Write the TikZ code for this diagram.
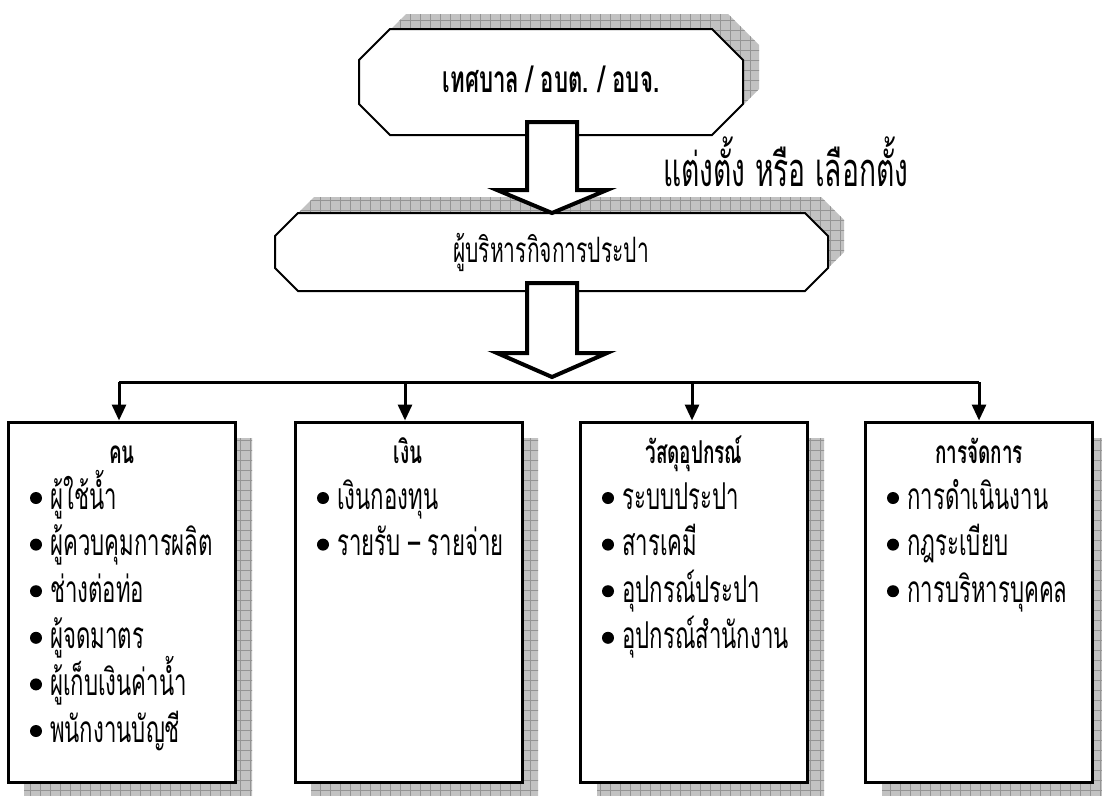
\documentclass[tikz,border=0pt]{standalone}
\usepackage{fontspec}
\setmainfont[Script=Thai,FakeStretch=0.6]{Loma}
\usetikzlibrary{arrows.meta}
\tikzset{
  shadowfill/.style={fill=black!24},
  gridline/.style={draw=black!42, line width=0.7pt},
  octo/.style={draw=black, line width=2pt, fill=white, line join=miter},
  blockarrow/.style={draw=black, line width=4pt, fill=white, line join=miter, miter limit=10},
  panel/.style={draw=black, line width=3pt, fill=white, rectangle, inner sep=0, minimum width=227pt, minimum height=360pt},
  conn/.style={line width=3pt, -{Triangle[width=14pt,length=16pt]}},
  bul/.style={circle, fill=black, inner sep=0, minimum size=12pt},
  itemtext/.style={anchor=base west, font=\fontsize{37}{40}\selectfont, inner sep=0},
  headtext/.style={anchor=base, font=\bfseries\fontsize{31.5}{34}\selectfont, inner sep=0},
}
\newcommand\shadowshape[1]{%
  \begin{scope}
    \clip #1;
    \fill[shadowfill] (0,0) rectangle (1102,796);
    \draw[gridline, step=10pt] (0,0) grid (1102,796);
  \end{scope}}
\begin{document}
\begin{tikzpicture}[x=1pt,y=-1pt]
\useasboundingbox (0,0) rectangle (1102,796);
% shadows
\shadowshape{(406,14) -- (728,14) -- (759,45) -- (759,89) -- (728,120) -- (406,120) -- (375,89) -- (375,45) -- cycle}
\shadowshape{(314,197) -- (821,197) -- (844,220) -- (844,252) -- (821,275) -- (314,275) -- (291,252) -- (291,220) -- cycle}
\shadowshape{(24,438) rectangle (252,796)}
\shadowshape{(311,438) rectangle (538,796)}
\shadowshape{(597,438) rectangle (824,796)}
\shadowshape{(882,438) rectangle (1109,796)}
% top octagon
\draw[octo] (390,29) -- (712,29) -- (743,60) -- (743,104) -- (712,135) -- (390,135) -- (359,104) -- (359,60) -- cycle;
\node[anchor=base, inner sep=0, font=\bfseries\fontsize{37}{40}\selectfont] (top) at (551,92) {เทศบาล / อบต. / อบจ.};
% second octagon
\draw[octo] (298,213) -- (805,213) -- (828,236) -- (828,268) -- (805,291) -- (298,291) -- (275,268) -- (275,236) -- cycle;
\node[anchor=base, inner sep=0, font=\fontsize{35}{38}\selectfont] (mgr) at (551,262) {ผู้บริหารกิจการประปา};
% block arrows
\draw[blockarrow] (527,122) -- (577,122) -- (577,190) -- (607,190) -- (552,213) -- (497,190) -- (527,190) -- cycle;
\draw[blockarrow] (527,283) -- (577,283) -- (577,353) -- (607,353) -- (552,377) -- (497,353) -- (527,353) -- cycle;
\node[anchor=base west, font=\fontsize{47}{50}\selectfont, inner sep=0] (lbl) at (663,186) {แต่งตั้ง หรือ เลือกตั้ง};
% panels
\node[panel] (b1) at (122,602) {};
\node[panel] (b2) at (408.5,602) {};
\node[panel] (b3) at (694,602) {};
\node[panel] (b4) at (979,602) {};
% bus
\coordinate (bus1) at (119,382);
\coordinate (bus2) at (405,382);
\coordinate (bus3) at (692,382);
\coordinate (bus4) at (979,382);
\draw[line width=3pt] (bus1) -- (bus4);
\draw[conn] (bus1) -- (bus1 |- b1.north);
\draw[conn] (bus2) -- (bus2 |- b2.north);
\draw[conn] (bus3) -- (bus3 |- b3.north);
\draw[conn] (bus4) -- (bus4 |- b4.north);
% headings
\node[headtext] (h1) at (122,463) {คน};
\node[headtext] (h2) at (408,463) {เงิน};
\node[headtext] (h3) at (694,463) {วัสดุอุปกรณ์};
\node[headtext] (h4) at (979,463) {การจัดการ};
% items
\foreach \t [count=\i from 0] in {ผู้ใช้น้ำ, ผู้ควบคุมการผลิต, ช่างต่อท่อ, ผู้จดมาตร, ผู้เก็บเงินค่าน้ำ, พนักงานบัญชี}{
  \node[bul] (p1d\i) at (36,498+46.6*\i) {};
  \node[itemtext] (p1t\i) at (50,509+46.6*\i) {\t};
}
\foreach \t [count=\i from 0] in {เงินกองทุน, รายรับ – รายจ่าย}{
  \node[bul] (p2d\i) at (323,498+46.6*\i) {};
  \node[itemtext] (p2t\i) at (337,509+46.6*\i) {\t};
}
\foreach \t [count=\i from 0] in {ระบบประปา, สารเคมี, อุปกรณ์ประปา, อุปกรณ์สำนักงาน}{
  \node[bul] (p3d\i) at (608,498+46.6*\i) {};
  \node[itemtext] (p3t\i) at (622,509+46.6*\i) {\t};
}
\foreach \t [count=\i from 0] in {การดำเนินงาน, กฎระเบียบ, การบริหารบุคคล}{
  \node[bul] (p4d\i) at (893,498+46.6*\i) {};
  \node[itemtext] (p4t\i) at (907,509+46.6*\i) {\t};
}
\end{tikzpicture}
\end{document}
